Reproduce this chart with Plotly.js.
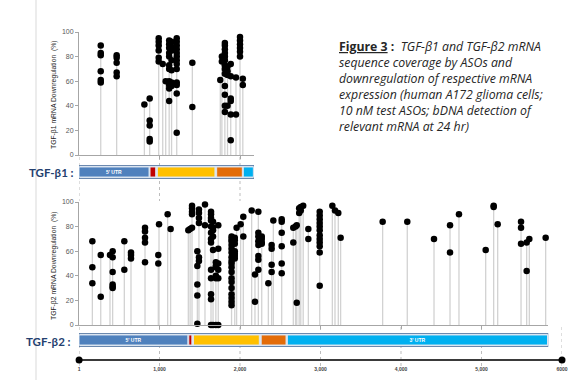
<!DOCTYPE html>
<html><head><meta charset="utf-8">
<script src="https://cdn.plot.ly/plotly-3.0.1.min.js"></script>
<style>html,body{margin:0;padding:0;background:#fff}#chart{width:572px;height:380px}</style>
</head><body><div id="chart"></div>
<script>
// ---- TGF-beta1 ASO positions (nt) and downregulation (%) ----
const b1Pos = [270,270,270,270,270,270, 468,468,468,468,468, 812, 878,878,878,878,878,
  990,990,990,990,990,990, 1040, 1077,
  1120,1120,1120,1120,1120,1120,1120,1120,1120,1120,1120,
  1150,1150,1150,1150,1150,1150,1150,
  1214,1214,1214,1214,1214,1214,1214,1214,1214,1214,1214,1214,1214,
  1408,1408, 1755, 1775,1775,
  1812,1812,1812,1812,1812,1812,1812,1812,1812,1812,1812,1812,1812,
  1845,1845,1845,1845, 1885,1885,1885,1885,1885,1885, 1950,1950,
  2000,2000,2000,2000,2000,2000, 2035,2035];
const b1Val = [89,83,81,68,61,59, 81,79,75,67,64, 41, 46,28,24,13,11,
  95,92,89,85,79,76, 74, 60,
  93,90,87,83,80,73,70,60,57,54,44,
  92,88,85,77,69,59,56,
  95,92,89,86,83,80,77,74,70,59,57,50,18,
  75,39, 61, 80,76,
  91,89,86,83,80,77,73,70,66,56,49,40,35,
  72,68,65,40, 74,64,46,44,33,12, 63,33,
  96,93,90,87,84,80, 62,57];

// ---- TGF-beta2 ASO positions (nt) and downregulation (%) ----
const b2Pos = [166,166,166, 270,270, 385, 418,418,418,418,418,418, 563,563, 646,646,646,
  820,820,820,820,820, 985,985, 994, 1101, 1138, 1358, 1380,
  1404,1404,1404,1404,1404, 1470,1470,1470,1470,1470, 1490,1490,1490,1490,1490,1490,
  1565,1565,
  1640,1640,1640,1640,1640,1640,1640,1640,1640,1640,1640,1640,1640,
  1665,1665,1665,1665,1665,1665, 1700,1700,1700,1700,1700,1700, 1730,1730,1730,1730,1730,1730,
  1895,1895,1895,1895,1895,1895,1895,1895,1895,1895,1895,1895,1895,1895,1895,1895,1895,1895,
  1935,1935,1935,1935,1935,1935,1935, 1958, 2008, 2041,2041, 2145, 2186,2186,
  2228,2228,2228,2228,2228,2228,2228,2228, 2270,2270,2270,2270, 2352,
  2393,2393,2393,2393, 2414, 2518,2518,2518,2518,2518,2518,
  2662,2662, 2690, 2705,2705, 2735,2735, 2755,2755, 2785, 2849,2849,
  2990,2990,2990,2990,2990,2990,2990,2990,2990,2990,2990,2990,
  3147, 3180, 3221, 3250, 3772, 4078, 4410, 4609,4609, 4720, 5052, 5151,5151, 5201,
  5491,5491,5491, 5561,5561, 5594, 5797];
const b2Val = [68,47,34, 57,23, 57, 60,55,43,33,31,30, 68,45, 59,57,54,
  79,76,71,67,51, 57,50, 82, 90, 78, 77, 78,
  97,95,92,90,79, 60,48,33,24,1, 94,91,87,83,55,52,
  98,81,
  92,90,87,85,80,75,70,67,45,38,25,21,0,
  84,79,77,72,61,0, 51,48,47,40,38,0, 81,62,50,45,38,0,
  72,70,68,65,62,59,55,52,50,47,43,38,35,30,25,22,19,16,
  71,69,66,60,58,56,54, 79, 82, 88,72, 93, 41,19,
  92,75,72,68,65,56,53,45, 72,70,67,66, 34,
  65,62,49,43, 85, 86,84,75,64,50,42,
  79,67, 80, 81,18, 91,95, 96,93, 97, 78,70,
  92,89,86,83,80,77,73,70,67,64,59,32,
  97, 93, 91, 71, 84, 84, 70, 81,59, 90, 61, 97,96, 82,
  84,79,66, 67,44, 70, 71];

// ---- gene maps (nt) ----
const geneLen = [2175, 5830];
const segColors = ['#4f81bd', '#c00000', '#ffc000', '#e36c09', '#00b0f0'];
const segLabels = ["5' UTR", '', '', '', ''];
const segLabels2 = ["5' UTR", '', '', '', "3' UTR"];
const b1SegStart = [0, 882, 973, 1710, 2041];
const b1SegEnd   = [870, 953, 1689, 2029, 2166];
const b2SegStart = [0, 1364, 1422, 2263, 2588];
const b2SegEnd   = [1352, 1402, 2240, 2572, 5820];

// ---- scale ----
const scaleEnds = [1, 6000];
const scaleTicks = [1, 1000, 2000, 3000, 4000, 5000, 6000];
const scaleTickText = ['1', '1,000', '2,000', '3,000', '4,000', '5,000', '6000'];
const yTicks = [0, 20, 40, 60, 80, 100];
const yTitles = ['TGF-β1 mRNA Downregulation  (%)', 'TGF-β2 mRNA Downregulation  (%)'];

function stems(pos, val) {
  const mx = {};
  pos.forEach((p, i) => { mx[p] = Math.max(mx[p] === undefined ? -1 : mx[p], val[i]); });
  const xs = [], ys = [];
  Object.keys(mx).forEach(k => { xs.push(+k, +k, null); ys.push(0, mx[k], null); });
  return {xs, ys};
}
const s1 = stems(b1Pos, b1Val), s2 = stems(b2Pos, b2Val);
const py = v => 1 - v / 380;
const pxp = v => (v - 79) / 483;
const MAXX = 6000;

const stemStyle = {color: '#d2d2d2', width: 1.3};
const dotStyle = {color: '#000', size: 6.5};

const traces = [
  {type: 'scatter', mode: 'lines', x: s1.xs, y: s1.ys, xaxis: 'x2', yaxis: 'y', line: stemStyle, hoverinfo: 'skip', showlegend: false},
  {type: 'scatter', mode: 'markers', x: b1Pos, y: b1Val, xaxis: 'x2', yaxis: 'y', marker: dotStyle, cliponaxis: false, showlegend: false},
  {type: 'scatter', mode: 'lines', x: s2.xs, y: s2.ys, xaxis: 'x3', yaxis: 'y2', line: stemStyle, hoverinfo: 'skip', showlegend: false},
  {type: 'scatter', mode: 'markers', x: b2Pos, y: b2Val, xaxis: 'x3', yaxis: 'y2', marker: dotStyle, cliponaxis: false, showlegend: false},
  {type: 'bar', orientation: 'h', base: b1SegStart, x: b1SegEnd.map((e, i) => e - b1SegStart[i]), y: b1SegStart.map(() => 0),
   xaxis: 'x2', yaxis: 'y3', width: 0.72, marker: {color: segColors, line: {color: '#dbe5f1', width: 1}},
   text: segLabels, textposition: 'inside', insidetextanchor: 'middle', constraintext: 'none',
   textfont: {size: 5, color: '#fff', weight: 'bold'}, showlegend: false, hoverinfo: 'skip'},
  {type: 'bar', orientation: 'h', base: b2SegStart, x: b2SegEnd.map((e, i) => e - b2SegStart[i]), y: b2SegStart.map(() => 0),
   xaxis: 'x3', yaxis: 'y4', width: 0.72, marker: {color: segColors, line: {color: '#dbe5f1', width: 1}},
   text: segLabels2, textposition: 'inside', insidetextanchor: 'middle', constraintext: 'none',
   textfont: {size: 5, color: '#fff', weight: 'bold'}, showlegend: false, hoverinfo: 'skip'},
  {type: 'scatter', mode: 'lines+markers', x: scaleEnds, y: [0, 0], xaxis: 'x', yaxis: 'y5',
   line: {color: '#3a3a3a', width: 2}, marker: {color: '#000', size: 7}, cliponaxis: false, showlegend: false}
];

const shapes = [];
// page border
shapes.push({type: 'line', xref: 'paper', yref: 'paper', x0: pxp(36), x1: pxp(36), y0: 0, y1: 1, line: {color: '#d9d9d9', width: 1}});
// dotted guide lines
[0, 1000, 2000].forEach(t => shapes.push({type: 'line', xref: 'x', yref: 'paper', x0: t, x1: t, y0: py(157), y1: py(201), layer: 'below', line: {color: '#bdbdbd', width: 1, dash: 'dot'}}));
scaleTicks.forEach(t => shapes.push({type: 'line', xref: 'x', yref: 'paper', x0: t, x1: t, y0: py(327), y1: py(366), layer: 'below', line: {color: '#bdbdbd', width: 1, dash: 'dot'}}));
// gene bar frames
shapes.push({type: 'rect', xref: 'x2', yref: 'y3', x0: 0, x1: geneLen[0], y0: -0.47, y1: 0.47, layer: 'below', fillcolor: '#dbe5f1', line: {color: '#5f7fa8', width: 1}});
shapes.push({type: 'rect', xref: 'x3', yref: 'y4', x0: 0, x1: geneLen[1], y0: -0.47, y1: 0.47, layer: 'below', fillcolor: '#dbe5f1', line: {color: '#5f7fa8', width: 1}});

const yAx = (dom, anchor) => ({
  domain: dom, range: [0, 100], anchor: anchor, tickvals: yTicks, showline: true, linecolor: '#a6a6a6', linewidth: 1,
  ticks: 'outside', ticklen: 3, tickcolor: '#a6a6a6', tickfont: {size: 7, color: '#595959'},
  showgrid: false, zeroline: false, automargin: false
});
const xAx = (len, anchor, ticks) => ({
  domain: [0, len / MAXX], range: [0, len], anchor: anchor, showline: true, linecolor: '#a6a6a6', linewidth: 1,
  ticks: 'outside', ticklen: 3, tickcolor: '#a6a6a6', tickvals: ticks, showticklabels: false,
  showgrid: false, zeroline: false, automargin: false
});

const layout = {
  width: 572, height: 380, margin: {l: 79, r: 10, t: 0, b: 0},
  paper_bgcolor: '#fff', plot_bgcolor: 'rgba(0,0,0,0)',
  font: {family: 'Liberation Sans, Arial, sans-serif'},
  barmode: 'overlay', showlegend: false,
  xaxis: {domain: [0, 1], range: [0, MAXX], anchor: 'free', position: py(365), showline: false, showgrid: false, zeroline: false,
          tickvals: scaleTicks, ticktext: scaleTickText, ticks: '', tickfont: {size: 5, color: '#444', weight: 'bold'}, automargin: false},
  xaxis2: xAx(geneLen[0], 'y', [1000, 2000]),
  xaxis3: xAx(geneLen[1], 'y2', [1000, 2000, 3000, 4000, 5000]),
  yaxis: yAx([py(155), py(32)], 'x2'),
  yaxis2: yAx([py(325), py(202)], 'x3'),
  yaxis3: {domain: [py(179), py(165)], range: [-0.5, 0.5], anchor: 'x2', visible: false},
  yaxis4: {domain: [py(347), py(333)], range: [-0.5, 0.5], anchor: 'x3', visible: false},
  yaxis5: {domain: [py(364), py(356)], range: [-1, 1], anchor: 'x', visible: false},
  shapes: shapes,
  annotations: [
    {xref: 'paper', yref: 'paper', x: pxp(54), y: py(95), xanchor: 'center', yanchor: 'middle', textangle: -90, showarrow: false,
     text: yTitles[0], font: {size: 6.8, color: '#222'}},
    {xref: 'paper', yref: 'paper', x: pxp(54), y: py(266), xanchor: 'center', yanchor: 'middle', textangle: -90, showarrow: false,
     text: yTitles[1], font: {size: 6.8, color: '#222'}},
    {xref: 'paper', yref: 'paper', x: pxp(76), y: py(172), xanchor: 'right', yanchor: 'middle', showarrow: false,
     text: '<b>TGF-β1 :</b>', font: {family: 'Lato, sans-serif', size: 11.5, color: '#24406f'}},
    {xref: 'paper', yref: 'paper', x: pxp(73), y: py(341), xanchor: 'right', yanchor: 'middle', showarrow: false,
     text: '<b>TGF-β2 :</b>', font: {family: 'Lato, sans-serif', size: 11.5, color: '#24406f'}},
    {xref: 'paper', yref: 'paper', x: pxp(337), y: py(36), xanchor: 'left', yanchor: 'top', align: 'left', showarrow: false,
     font: {family: 'Open Sans, sans-serif', size: 12.3, color: '#262626'},
     text: '<b><u>Figure 3</u> :</b>  <i>TGF-β1 and TGF-β2 mRNA</i><br><i>sequence coverage by ASOs and</i><br><i>downregulation of respective mRNA</i><br><i>expression (human A172 glioma cells;</i><br><i>10 nM test ASOs; bDNA detection of</i><br><i>relevant mRNA at 24 hr)</i>'}
  ]
};

Plotly.newPlot('chart', traces, layout, {staticPlot: true, displayModeBar: false});
</script></body></html>
